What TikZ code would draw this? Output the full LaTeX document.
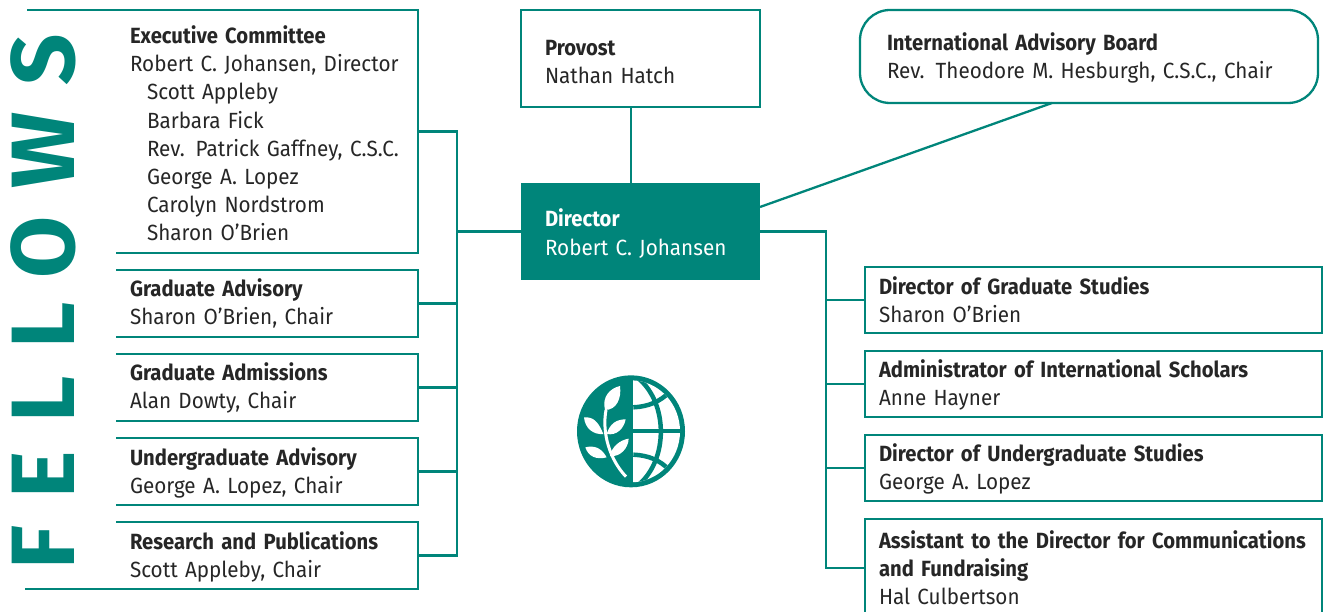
\documentclass[tikz,border=0pt]{standalone}
\usepackage{fontspec}
\setmainfont{Fira Sans}[FakeStretch=0.94, BoldFeatures={FakeStretch=0.92}]
\newfontfamily\bigfont[LetterSpace=31]{Fira Sans Bold}
\definecolor{nd teal}{HTML}{00857A}
\hyphenpenalty=10000
\exhyphenpenalty=10000
\begin{document}
\begin{tikzpicture}[x=1pt, y=-1pt,
		link/.style={draw=nd teal, line width=2.3pt},
		nudge/.style={execute at begin node={\rule{0pt}{#1}}},
		box text/.style={font=\fontsize{22}{28.15}\selectfont, text=black!85, align=left, inner ysep=0pt, outer sep=0pt},
		open box/.style={box text, anchor=north west, inner xsep=14pt, text width=#1},
		open box/.default=274pt,
		closed box/.style={open box=429pt, draw=nd teal, line width=2.3pt, minimum height=66pt},
		top box/.style={box text, anchor=north west, inner xsep=24pt, text width=191pt, minimum height=97pt, nudge=22pt}]
		\useasboundingbox (0,0) rectangle (1323,612);
		% left column
		\node[open box, minimum height=243pt, nudge=21.5pt] (exec) at (116,10) {\textbf{Executive Committee}\\Robert C. Johansen, Director\\
			\hspace*{17pt}Scott Appleby\\\hspace*{17pt}Barbara Fick\\\hspace*{17pt}Rev. Patrick Gaffney, C.S.C.\\
			\hspace*{17pt}George A. Lopez\\\hspace*{17pt}Carolyn Nordstrom\\\hspace*{17pt}Sharon O’Brien};
		\node[open box, minimum height=67pt, nudge=18.5pt] (gradadv) at (116,270) {\textbf{Graduate Advisory}\\Sharon O’Brien, Chair};
		\node[open box, minimum height=67pt, nudge=18.5pt] (gradadm) at (116,354) {\textbf{Graduate Admissions}\\Alan Dowty, Chair};
		\node[open box, minimum height=67pt, nudge=20.5pt] (ugradadv) at (116,438) {\textbf{Undergraduate Advisory}\\George A. Lopez, Chair};
		\node[open box, minimum height=67pt, nudge=20.5pt] (research) at (116,522) {\textbf{Research and Publications}\\Scott Appleby, Chair};
		\draw[link] (27,10) -- (exec.north east) -- (exec.south east) -- (exec.south west);
		\foreach \n in {gradadv,gradadm,ugradadv}{
		  \draw[link] (\n.north west) -- (\n.north east) -- (\n.south east) -- (\n.south west);
		}
		\draw[link] (research.north west) -- (research.north east) -- (research.south east) -- (25,589);
		% the word on the left
		\node[rotate=90, anchor=base west, inner sep=0pt, text=nd teal, font=\bigfont\fontsize{90}{90}\selectfont] (fellows) at (74,570) {FELLOWS};
		% centre column
		\node[top box, draw=nd teal, line width=2.3pt] (provost) at (521,10) {\textbf{Provost}\\Nathan Hatch};
		\node[top box, fill=nd teal, text=white] (director) at (521,183) {\textbf{Director}\\Robert C. Johansen};
		\coordinate (provostfoot) at (631,107);
		\draw[link] (provostfoot) -- (provostfoot |- director.north);
		% advisory board
		\node[box text, draw=nd teal, line width=2.3pt, rounded corners=30pt, anchor=north west, inner xsep=27pt,
			text width=404pt, minimum height=93pt, nudge=20.5pt] (board) at (860,10) {\textbf{International Advisory Board}\\Rev. Theodore M. Hesburgh, C.S.C., Chair};
		\coordinate (boardfoot) at (1052,103);
		\coordinate (dirtop) at (760,207);
		\draw[link] (dirtop) -- (boardfoot);
		% right column
		\node[closed box] (dgs) at (865,267) {\textbf{Director of Graduate Studies}\\Sharon O’Brien};
		\node[closed box, nudge=20.5pt] (admin) at (865,351) {\textbf{Administrator of International Scholars}\\Anne Hayner};
		\node[closed box, nudge=20.5pt] (dus) at (865,435) {\textbf{Director of Undergraduate Studies}\\George A. Lopez};
		\node[closed box, minimum height=98pt] (assist) at (865,519) {\mbox{\textbf{Assistant to the Director for Communications}}\\\textbf{and Fundraising}\\Hal Culbertson};
		% trunks
		\coordinate (lefttrunk) at ([xshift=39pt]exec.east);
		\coordinate (righttrunk) at ([xshift=66pt]director.east);
		\draw[link] (exec.east) -- (lefttrunk) -- (lefttrunk |- research.east) -- (research.east);
		\draw[link] (director.west) -- (director.west -| lefttrunk);
		\foreach \n in {gradadv,gradadm,ugradadv}{
		  \draw[link] (\n.east) -- (\n.east -| lefttrunk);
		}
		\draw[link] (director.east) -- (righttrunk) -- (righttrunk |- assist.west) -- (assist.west);
		\foreach \n in {dgs,admin,dus}{
		  \draw[link] (\n.west) -- (\n.west -| righttrunk);
		}
		% the globe, in units of a third of a pixel
		\begin{scope}[shift={(560,360)}, scale=1/3]
		\fill[nd teal] (213,214) ellipse (162 and 168);
		\begin{scope}
		\clip (213,214) ellipse (147 and 153);
		\fill[white] (220,40) rectangle (380,390);
		\draw[nd teal, line width=4.5pt] (220,213) -- (380,213);
		\draw[nd teal, line width=4.5pt] (235,55) .. controls (325,130) and (325,300) .. (235,375);
		\draw[nd teal, line width=4.5pt] (220,142) .. controls (265,140) and (300,125) .. (330,95);
		\draw[nd teal, line width=4.5pt] (220,284) .. controls (265,286) and (300,300) .. (330,332);
		\end{scope}
		% stem and leaves
		\draw[white, line width=3pt] (198,350) .. controls (150,300) and (125,220) .. (138,150);
		\fill[white] (135,150) .. controls (125,110) and (150,85) .. (180,78) .. controls (185,115) and (170,150) .. (135,150) -- cycle;
		\fill[white] (130,222) .. controls (115,185) and (100,170) .. (72,172) .. controls (75,205) and (100,225) .. (130,222) -- cycle;
		\fill[white] (140,222) .. controls (150,190) and (170,178) .. (197,178) .. controls (192,205) and (170,228) .. (140,222) -- cycle;
		\fill[white] (140,292) .. controls (125,265) and (105,255) .. (76,262) .. controls (85,290) and (110,300) .. (140,292) -- cycle;
		\fill[white] (150,288) .. controls (155,260) and (180,240) .. (206,236) .. controls (205,265) and (180,292) .. (150,288) -- cycle;
		\end{scope}
\end{tikzpicture}
\end{document}
